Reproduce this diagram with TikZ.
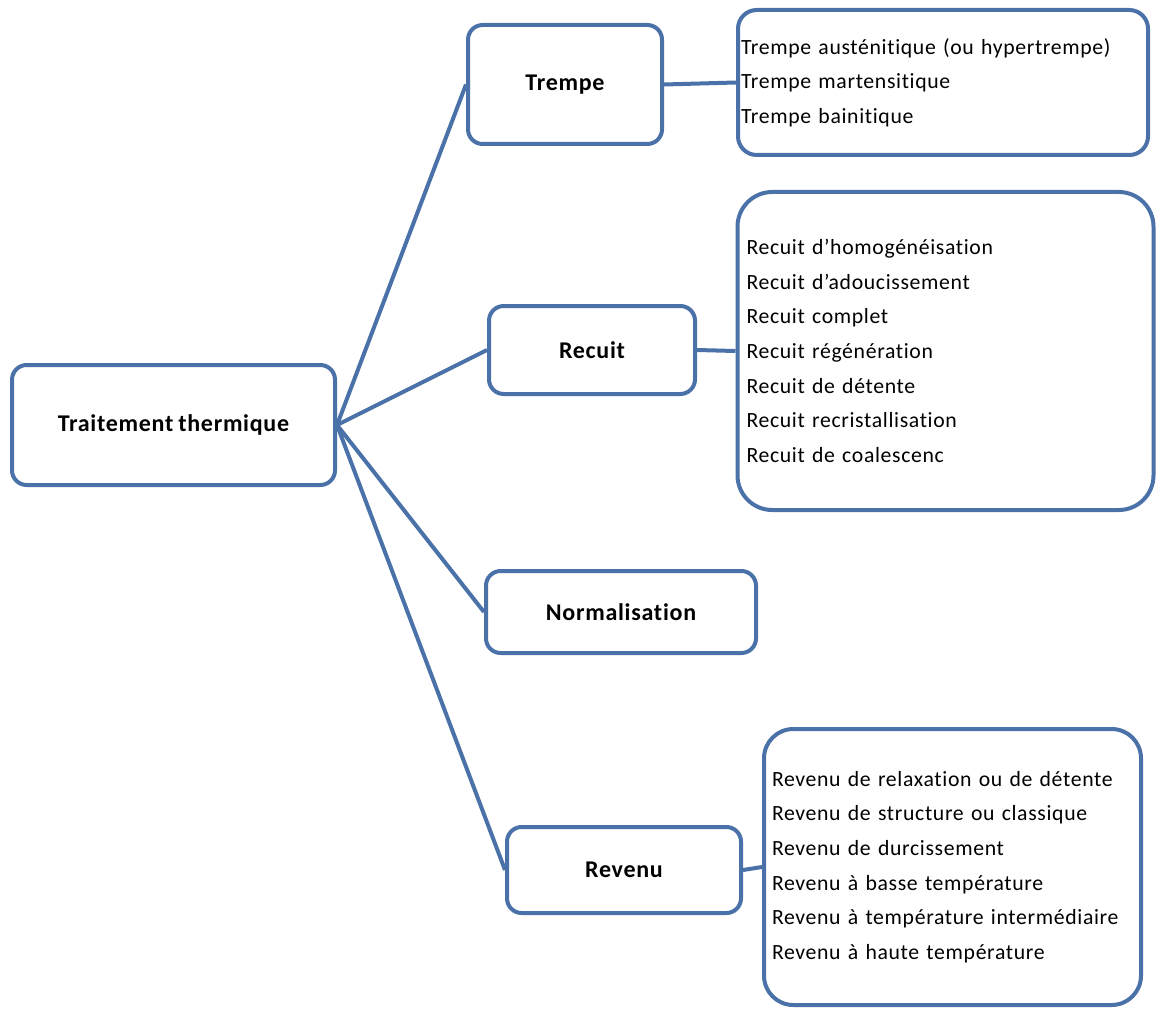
\documentclass[tikz,border=0pt]{standalone}
\usepackage{fontspec}
\setmainfont{Carlito}[LetterSpace=3, WordSpace=0.8, Ligatures=CommonOff]
\usepackage{xcolor}
\definecolor{cadre}{HTML}{4A72A8}

\tikzset{
  boite/.style={draw=cadre, line width=3pt, rounded corners=11pt, align=center,
    font=\fontsize{18}{21}\selectfont\bfseries},
  liste/.style={draw=cadre, line width=3pt, align=left, anchor=center,
    font=\fontsize{16.3}{26}\selectfont},
  lien/.style={draw=cadre, line width=3pt}
}

\begin{document}
\begin{tikzpicture}[x=0.75pt,y=-0.75pt]
  \useasboundingbox (0,0) rectangle (1156,1009);

  % boites principales
  \node[boite, minimum width=242.25pt, minimum height=90pt] (tt) at (173.5,425) {Traitement thermique};
  \node[boite, minimum width=145.5pt, minimum height=89.25pt] (trempe) at (565,84.5) {Trempe};
  \node[boite, minimum width=154.5pt, minimum height=66pt] (recuit) at (592,350) {Recuit};
  \node[boite, minimum width=202.5pt, minimum height=61.5pt] (norm) at (621,612) {Normalisation};
  \node[boite, minimum width=175.5pt, minimum height=64.5pt] (revenu) at (624,870) {Revenu};

  % listes
  \node[liste, rounded corners=14pt, inner xsep=2.25pt, text width=303pt, minimum height=108.75pt] (ltrempe) at (943,82.5)
    {Trempe austénitique (ou hypertrempe)\\Trempe martensitique\\Trempe bainitique};
  \node[liste, rounded corners=26pt, inner xsep=6.75pt, text width=298.5pt, minimum height=238.5pt] (lrecuit) at (945.5,351)
    {Recuit d’homogénéisation\\Recuit d’adoucissement\\Recuit complet\\Recuit régénération\\Recuit de détente\\Recuit recristallisation\\Recuit de coalescenc};
  \node[liste, rounded corners=22pt, inner xsep=6pt, text width=270.75pt, minimum height=207pt] (lrevenu) at (952.5,867)
    {Revenu de relaxation ou de détente\\Revenu de structure ou classique\\Revenu de durcissement\\Revenu à basse température\\Revenu à température intermédiaire\\Revenu à haute température};

  % liens
  \draw[lien] (tt.east) -- (trempe.west);
  \draw[lien] (tt.east) -- (recuit.west);
  \draw[lien] (tt.east) -- (norm.west);
  \draw[lien] (tt.east) -- (revenu.west);
  \draw[lien] (trempe.east) -- (ltrempe.west);
  \draw[lien] (recuit.east) -- (lrecuit.west);
  \draw[lien] (revenu.east) -- (lrevenu.west);
\end{tikzpicture}
\end{document}
